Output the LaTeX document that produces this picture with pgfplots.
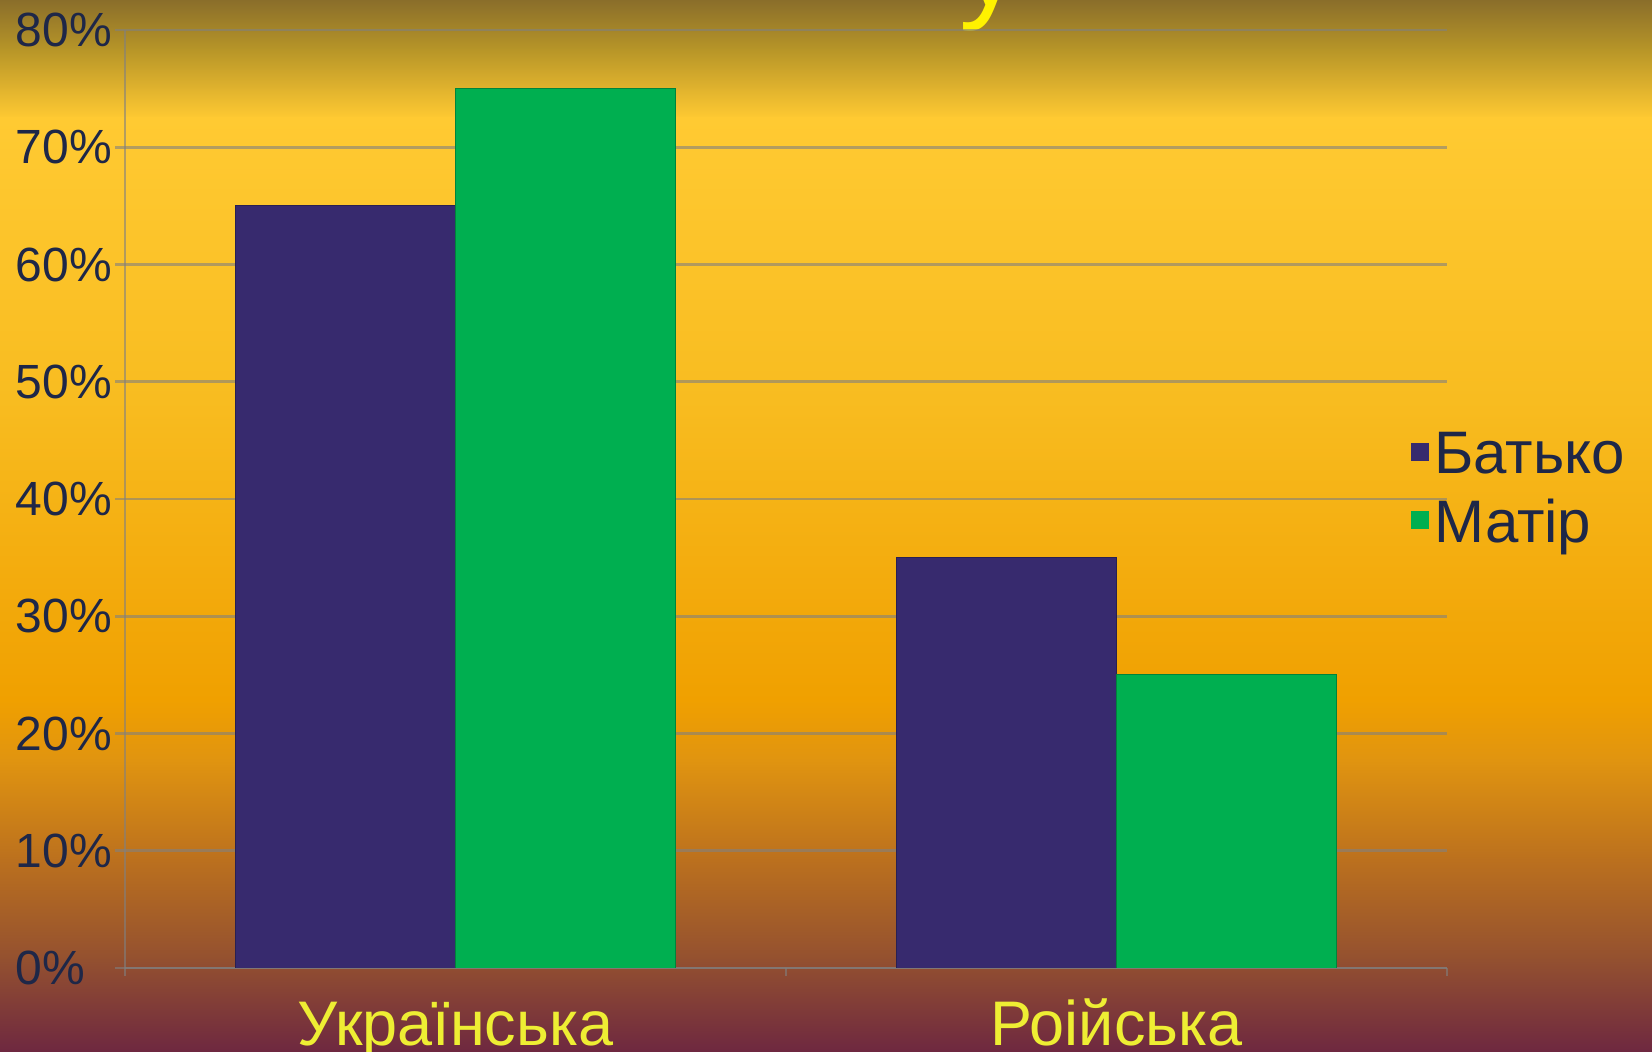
\documentclass[border=0pt]{standalone}
\usepackage{fontspec}
\setmainfont{Liberation Sans}
\usepackage{pgfplots}
\pgfplotsset{compat=1.18}

\definecolor{batko}{HTML}{372A6E}
\definecolor{matir}{HTML}{00AF50}
\definecolor{ticktext}{HTML}{1E2748}
\definecolor{catyellow}{HTML}{EEEE33}
\definecolor{gridc}{HTML}{808080}
% background stops, top to bottom
\definecolor{bgA}{HTML}{8A6E2A}
\definecolor{bgB}{HTML}{B89628}
\definecolor{bgC}{HTML}{E2B42E}
\definecolor{bgD}{HTML}{FFCA32}
\definecolor{bgE}{HTML}{F8BC20}
\definecolor{bgF}{HTML}{F0A000}
\definecolor{bgG}{HTML}{E09410}
\definecolor{bgH}{HTML}{BB701E}
\definecolor{bgI}{HTML}{935030}
\definecolor{bgJ}{HTML}{6E2840}

\pgfplotsset{
  sq legend/.style={legend image code/.code={
    \fill[##1,draw=none] (0pt,-3.25pt) rectangle (9pt,5.75pt);}},
}

\begin{document}
\begin{tikzpicture}
\path[use as bounding box] (0,0) rectangle (826pt,526pt);
\begin{scope}
\clip (0,0) rectangle (826pt,526pt);
\shade[top color=bgA, bottom color=bgB] (0,500.5pt) rectangle (826pt,526pt);
\shade[top color=bgB, bottom color=bgC] (0,480.5pt) rectangle (826pt,501pt);
\shade[top color=bgC, bottom color=bgD] (0,466.5pt) rectangle (826pt,481pt);
\shade[top color=bgD, bottom color=bgE] (0,325.5pt) rectangle (826pt,467pt);
\shade[top color=bgE, bottom color=bgF] (0,175.5pt) rectangle (826pt,326pt);
\shade[top color=bgF, bottom color=bgG] (0,145.5pt) rectangle (826pt,176pt);
\shade[top color=bgG, bottom color=bgH] (0,95.5pt) rectangle (826pt,146pt);
\shade[top color=bgH, bottom color=bgI] (0,45.5pt) rectangle (826pt,96pt);
\shade[top color=bgI, bottom color=bgJ] (0,0) rectangle (826pt,46pt);
% cut-off title above the chart
\node[anchor=base west, text=yellow, inner sep=0pt,
      font=\fontsize{62}{72}\selectfont] at (479.5pt,523pt) {у};
\end{scope}

\begin{axis}[
    at={(62.5pt,42pt)}, anchor=south west,
    scale only axis, width=661pt, height=469pt,
    ybar=0pt, bar width=110pt,
    xmin=-0.5, xmax=1.5, ymin=0, ymax=80,
    axis lines*=left,
    axis line style={draw=gridc, draw opacity=0.6, line width=1.4pt},
    xtick={0,1},
    xticklabels={Українська,Роійська},
    minor xtick={-0.5,0.5,1.5},
    ytick={0,10,...,80},
    yticklabels={0\%,10\%,20\%,30\%,40\%,50\%,60\%,70\%,80\%},
    ymajorgrids,
    grid style={draw=gridc, draw opacity=0.6, line width=1.4pt},
    tick align=outside,
    major tick length=5pt, minor tick length=4pt,
    tick style={draw=gridc, draw opacity=0.6, line width=1.4pt},
    major x tick style={draw=none},
    yticklabel style={anchor=west, xshift=-49.8pt, inner sep=0pt,
      text=ticktext, font=\fontsize{24}{28}\selectfont},
    xticklabel style={anchor=base, yshift=-33.6pt, inner sep=0pt,
      text=catyellow, font=\fontsize{31.5}{36}\selectfont},
    legend style={at={(axis description cs:0.9728,0.5107)}, anchor=west,
      draw=none, fill=none, inner sep=0pt,
      font=\fontsize{30}{36}\selectfont, text=ticktext,
      cells={anchor=west}, nodes={inner sep=0pt},
      column sep=2.5pt, row sep=11.4pt},
]
\addplot[fill=batko, draw=batko!75!black, sq legend]
  coordinates {(0,65) (1,35)};
\addplot[fill=matir, draw=matir!75!black, sq legend]
  coordinates {(0,75) (1,25)};
\legend{Батько,Матір}
\end{axis}
\end{tikzpicture}
\end{document}
